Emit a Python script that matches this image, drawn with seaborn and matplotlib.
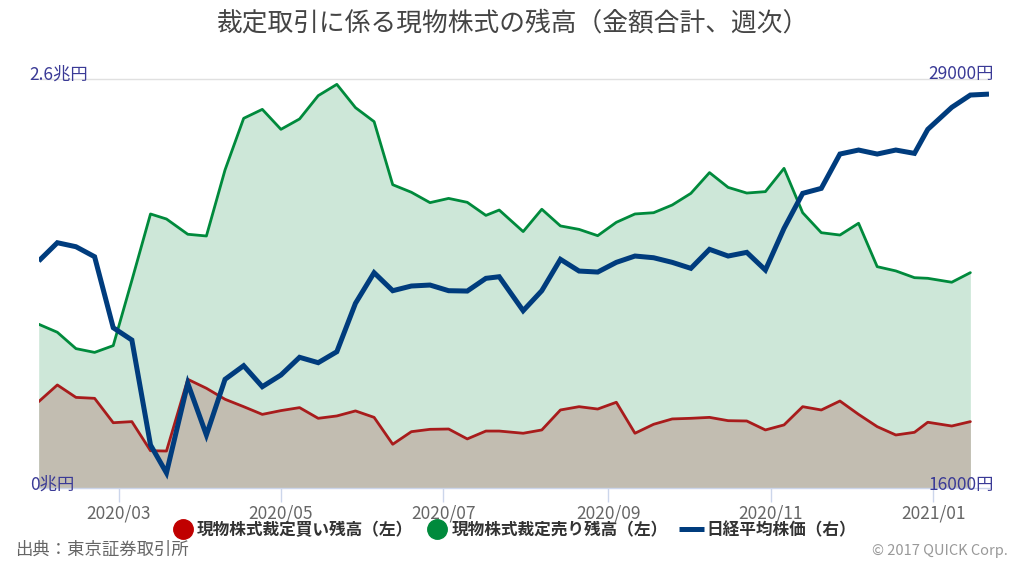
import matplotlib
matplotlib.use("Agg")
import matplotlib.pyplot as plt
import matplotlib.dates as mdates
from matplotlib.lines import Line2D
import seaborn as sns
import pandas as pd

# ---- data (weekly, last trading day of each week) ----
dates = ["2020-01-31", "2020-02-07", "2020-02-14", "2020-02-21", "2020-02-28",
         "2020-03-06", "2020-03-13", "2020-03-19", "2020-03-27", "2020-04-03",
         "2020-04-10", "2020-04-17", "2020-04-24", "2020-05-01", "2020-05-08",
         "2020-05-15", "2020-05-22", "2020-05-29", "2020-06-05", "2020-06-12",
         "2020-06-19", "2020-06-26", "2020-07-03", "2020-07-10", "2020-07-17",
         "2020-07-22", "2020-07-31", "2020-08-07", "2020-08-14", "2020-08-21",
         "2020-08-28", "2020-09-04", "2020-09-11", "2020-09-18", "2020-09-25",
         "2020-10-02", "2020-10-09", "2020-10-16", "2020-10-23", "2020-10-30",
         "2020-11-06", "2020-11-13", "2020-11-20", "2020-11-27", "2020-12-04",
         "2020-12-11", "2020-12-18", "2020-12-25", "2020-12-30", "2021-01-08",
         "2021-01-15", "2021-01-22"]

# 現物株式裁定買い残高 (兆円)
buy_balance = [0.549, 0.655, 0.576, 0.570, 0.415, 0.422, 0.237, 0.235, 0.691, 0.634,
               0.564, 0.517, 0.468, 0.492, 0.511, 0.443, 0.458, 0.490, 0.449, 0.278,
               0.358, 0.373, 0.375, 0.312, 0.362, 0.362, 0.348, 0.369, 0.496, 0.517,
               0.502, 0.545, 0.348, 0.405, 0.439, 0.443, 0.449, 0.428, 0.426, 0.369,
               0.401, 0.517, 0.496, 0.553, 0.468, 0.390, 0.337, 0.354, 0.418, 0.394,
               0.422]

# 現物株式裁定売り残高 (兆円)
sell_balance = [1.041, 0.990, 0.886, 0.862, 0.905, 1.320, 1.742, 1.710, 1.613, 1.602,
                2.022, 2.350, 2.407, 2.280, 2.346, 2.494, 2.566, 2.418, 2.329, 1.928,
                1.880, 1.814, 1.841, 1.816, 1.733, 1.767, 1.630, 1.772, 1.666, 1.644,
                1.604, 1.689, 1.742, 1.750, 1.799, 1.873, 2.005, 1.911, 1.875, 1.884,
                2.032, 1.750, 1.623, 1.608, 1.683, 1.407, 1.380, 1.337, 1.333, 1.308,
                1.369]

# 日経平均株価 (円)
nikkei = [23214, 23796, 23669, 23351, 21095, 20703, 17367, 16480, 19327, 17684,
          19454, 19887, 19220, 19591, 20154, 19983, 20332, 21870, 22843, 22271,
          22420, 22451, 22271, 22260, 22664, 22715, 21635, 22271, 23268, 22896,
          22864, 23172, 23373, 23319, 23172, 22982, 23586, 23373, 23490, 22928,
          24253, 25365, 25524, 26615, 26742, 26615, 26742, 26636, 27399, 28098,
          28490, 28520]

tick_months = ["2020-03-01", "2020-05-01", "2020-07-01", "2020-09-01", "2020-11-01", "2021-01-01"]

series_names = ["現物株式裁定買い残高（左）", "現物株式裁定売り残高（左）", "日経平均株価（右）"]
title = "裁定取引に係る現物株式の残高（金額合計、週次）"
source = "出典：東京証券取引所"
copyright_text = "© 2017 QUICK Corp."

# ---- styling ----
sns.set_theme(style="white")
plt.rcParams["font.family"] = ["Noto Sans CJK JP", "DejaVu Sans"]

RED = "#a81c1c"
RED_DOT = "#c00000"
GREEN = "#008a3c"
BLUE = "#003c7d"
GREEN_FILL = "#cde7d8"
TAUPE_FILL = "#c2bdb1"
AXIS_TXT = "#3a3a96"

df = pd.DataFrame({"date": pd.to_datetime(dates[:len(buy_balance)]),
                   "buy": buy_balance, "sell": sell_balance})
dn = pd.DataFrame({"date": pd.to_datetime(dates), "nikkei": nikkei})

fig = plt.figure(figsize=(10.24, 5.64), dpi=100)
ax = fig.add_axes([38.7 / 1024, 76 / 564, (989 - 38.7) / 1024, 409 / 564])

ax.fill_between(df["date"], 0, df["sell"], color=GREEN_FILL, lw=0, zorder=1)
ax.fill_between(df["date"], 0, df["buy"], color=TAUPE_FILL, lw=0, zorder=2)
sns.lineplot(data=df, x="date", y="sell", ax=ax, color=GREEN, lw=2.0, zorder=3)
sns.lineplot(data=df, x="date", y="buy", ax=ax, color=RED, lw=2.0, zorder=4)

ax.set_ylim(0, 2.6)
ax.set_xlim(pd.Timestamp(dates[0]), pd.Timestamp(dates[-1]))
ax.set_yticks([])
ax.set_ylabel("")
ax.set_xlabel("")
ax.axhline(2.6, color="#e0e0e0", lw=1.0, zorder=0, clip_on=False)

for s in ["top", "left", "right"]:
    ax.spines[s].set_visible(False)
ax.spines["bottom"].set_color("#ccd6eb")
ax.spines["bottom"].set_linewidth(1.0)

ax.set_xticks(pd.to_datetime(tick_months))
ax.xaxis.set_major_formatter(mdates.DateFormatter("%Y/%m"))
ax.tick_params(axis="x", length=10, width=1.0, color="#ccd6eb", pad=2,
               labelsize=12.5, labelcolor="#666666", bottom=True)

ax2 = ax.twinx()
sns.lineplot(data=dn, x="date", y="nikkei", ax=ax2, color=BLUE, lw=3.6,
             solid_capstyle="butt", solid_joinstyle="miter", zorder=5)
ax2.set_ylim(16000, 29000)
ax2.set_yticks([])
ax2.set_ylabel("")
ax2.set_xlabel("")
for s in ["top", "left", "right", "bottom"]:
    ax2.spines[s].set_visible(False)
ax2.set_xlim(pd.Timestamp(dates[0]), pd.Timestamp(dates[-1]))

# axis end labels
lab_kw = dict(fontsize=12.5, color=AXIS_TXT, textcoords="offset points")
ax.annotate("2.6兆円", xy=(0, 2.6), xycoords=("axes fraction", "data"),
            xytext=(-6.5, -3), ha="left", va="bottom", **lab_kw)
ax.annotate("0兆円", xy=(0, 0), xycoords=("axes fraction", "data"),
            xytext=(-6.5, -4), ha="left", va="bottom", **lab_kw)
ax2.annotate("29000円", xy=(1, 29000), xycoords=("axes fraction", "data"),
             xytext=(3.5, -3), ha="right", va="bottom", **lab_kw)
ax2.annotate("16000円", xy=(1, 16000), xycoords=("axes fraction", "data"),
             xytext=(3.5, -4), ha="right", va="bottom", **lab_kw)

# title & footer
fig.text(0.5, 1 - 24 / 564, title, ha="center", va="center", fontsize=18.5, color="#444444")
fig.text(15 / 1024, 1 - 550 / 564, source, ha="left", va="center", fontsize=12.5, color="#666666")
fig.text(1008 / 1024, 1 - 551 / 564, copyright_text, ha="right", va="center", fontsize=10.5, color="#999999")

handles = [
    Line2D([], [], ls="none", marker="o", markersize=14, markerfacecolor=RED_DOT, markeredgecolor=RED_DOT),
    Line2D([], [], ls="none", marker="o", markersize=14, markerfacecolor=GREEN, markeredgecolor=GREEN),
    Line2D([], [], color=BLUE, lw=3.6, solid_capstyle="butt"),
]
leg = fig.legend(handles, series_names, loc="center", bbox_to_anchor=(513 / 1024, 1 - 530 / 564),
                 ncol=3, frameon=False, handlelength=1.5, handletextpad=0.1, columnspacing=0.7,
                 prop={"weight": "bold", "size": 12.0, "family": ["Noto Sans CJK JP", "DejaVu Sans"]})
for t in leg.get_texts():
    t.set_color("#333333")

fig.savefig("out.png", dpi=100)
